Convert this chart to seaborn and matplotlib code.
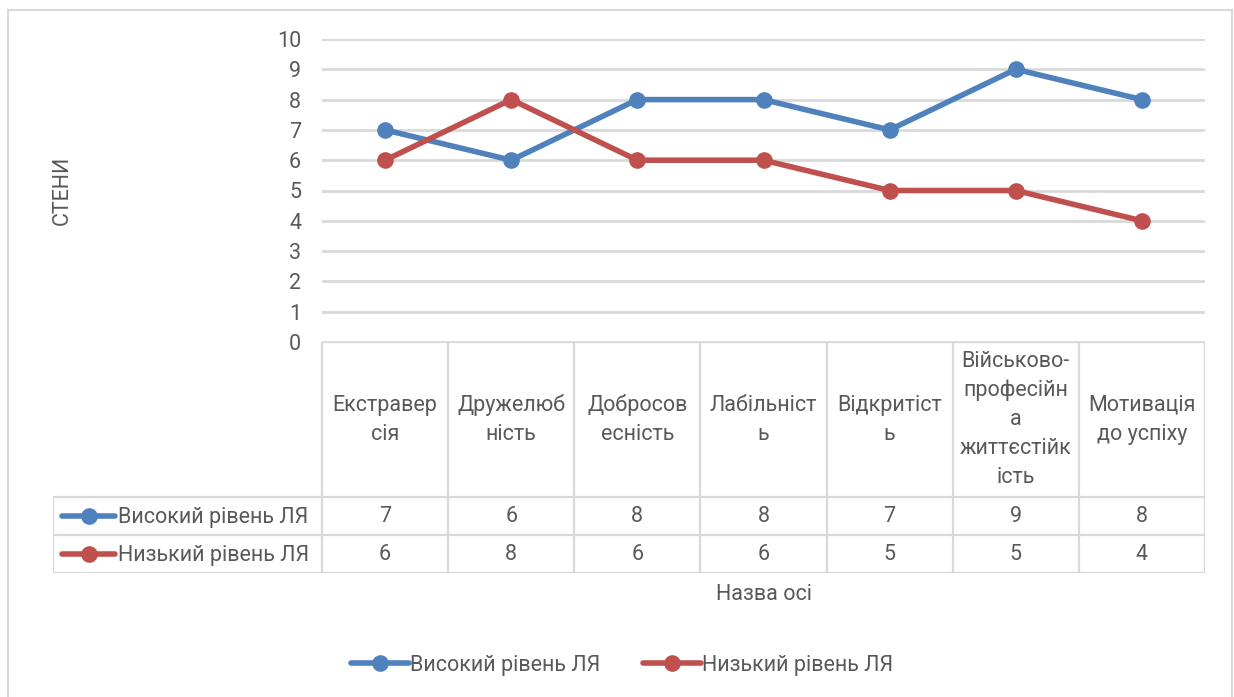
import pandas as pd
import seaborn as sns
import matplotlib.pyplot as plt
from matplotlib.lines import Line2D
from matplotlib.patches import Rectangle

# Data
categories = ['Екстравер\nсія', 'Дружелюб\nність', 'Добросов\nесність', 'Лабільніст\nь',
              'Відкритіст\nь', 'Військово-\nпрофесійн\nа\nжиттєстійк\nість', 'Мотивація\nдо успіху']
high_level = [7, 6, 8, 8, 7, 9, 8]
low_level = [6, 8, 6, 6, 5, 5, 4]
series_names = ['Високий рівень ЛЯ', 'Низький рівень ЛЯ']
y_ticks = list(range(0, 11))

BLUE = '#4f81bd'
RED = '#c0504d'
GRID = '#d9d9d9'
TXT = '#595959'
FS = 15.5

sns.set_style('white')
plt.rcParams['font.family'] = ['Roboto', 'DejaVu Sans']

W, H = 1234, 697
fig = plt.figure(figsize=(W / 100, H / 100), dpi=100)

# outer chart border
fig.patches.append(Rectangle((8 / W, -0.01), 1224 / W, 1 - 10 / H + 0.01, transform=fig.transFigure,
                             fill=False, edgecolor=GRID, linewidth=1.5))

# Long format table for seaborn
df = pd.DataFrame({
    'pos': list(range(len(categories))) * 2,
    'value': high_level + low_level,
    'series': [series_names[0]] * len(high_level) + [series_names[1]] * len(low_level),
})

# main plot area
ax = fig.add_axes([322 / W, 1 - 342 / H, 883 / W, 303 / H])
sns.lineplot(data=df, x='pos', y='value', hue='series', palette=[BLUE, RED],
             marker='o', markersize=12, markeredgewidth=0, linewidth=4,
             ax=ax, legend=False)
ax.set_xlim(-0.5, len(categories) - 0.5)
ax.set_ylim(0, 10)
ax.set_yticks(y_ticks)
ax.set_xticks([])
ax.set_xlabel('')
ax.set_ylabel('')
for s in ax.spines.values():
    s.set_visible(False)
ax.grid(axis='y', color=GRID, linewidth=2)
ax.set_axisbelow(True)
ax.tick_params(axis='y', length=0, pad=15, labelsize=FS, labelcolor=TXT)
for lbl in ax.get_yticklabels():
    lbl.set_horizontalalignment('right')

# data table below the plot
tab = fig.add_axes([53 / W, 1 - 573 / H, (1205 - 53) / W, (573 - 342) / H])
unit = 883 / len(categories)
left_edge = -0.5 - (322 - 53) / unit
tab.set_xlim(left_edge, len(categories) - 0.5)
tab.set_ylim(573, 342)
tab.axis('off')

row_tops = [342, 497, 535, 573]
lw = 1.6
# horizontal lines
tab.plot([-0.5, len(categories) - 0.5], [342, 342], color=GRID, lw=lw)
for y in row_tops[1:]:
    tab.plot([left_edge, len(categories) - 0.5], [y, y], color=GRID, lw=lw)
# vertical lines
for i in range(len(categories) + 1):
    tab.plot([i - 0.5, i - 0.5], [342, 573], color=GRID, lw=lw)
tab.plot([left_edge, left_edge], [497, 573], color=GRID, lw=lw)

for i, cat in enumerate(categories):
    tab.text(i, (342 + 497) / 2, cat, ha='center', va='center', fontsize=FS,
             color=TXT, linespacing=1.5)
    tab.text(i, (497 + 535) / 2 + 1, str(high_level[i]), ha='center', va='center',
             fontsize=FS, color=TXT)
    tab.text(i, (535 + 573) / 2 + 1, str(low_level[i]), ha='center', va='center',
             fontsize=FS, color=TXT)

# row headers with legend keys
for (y0, y1), name, col in zip([(497, 535), (535, 573)], series_names, [BLUE, RED]):
    yc = (y0 + y1) / 2
    k0 = left_edge + 9 / unit
    k1 = left_edge + 62 / unit
    tab.plot([k0, k1], [yc, yc], color=col, lw=4, solid_capstyle='round')
    tab.plot([(k0 + k1) / 2], [yc], 'o', color=col, markersize=12, markeredgewidth=0)
    tab.text(left_edge + 65 / unit, yc + 1, name, ha='left', va='center', fontsize=FS, color=TXT)

# axis titles
fig.text(62 / W, 1 - 190 / H, 'СТЕНИ', rotation=90, ha='center', va='center',
         fontsize=FS, color=TXT)
fig.text(764 / W, 1 - 595 / H, 'Назва осі', ha='center', va='center', fontsize=FS, color=TXT)

# legend
handles = [Line2D([], [], color=c, lw=4, marker='o', markersize=12, markeredgewidth=0)
           for c in [BLUE, RED]]
leg = fig.legend(handles, series_names, loc='center', bbox_to_anchor=(622 / W, 1 - 665 / H),
                 ncol=2, frameon=False, fontsize=FS, handlelength=2.7, handletextpad=0.05,
                 columnspacing=2.0)
for t in leg.get_texts():
    t.set_color(TXT)

fig.savefig('out.png', dpi=100)
